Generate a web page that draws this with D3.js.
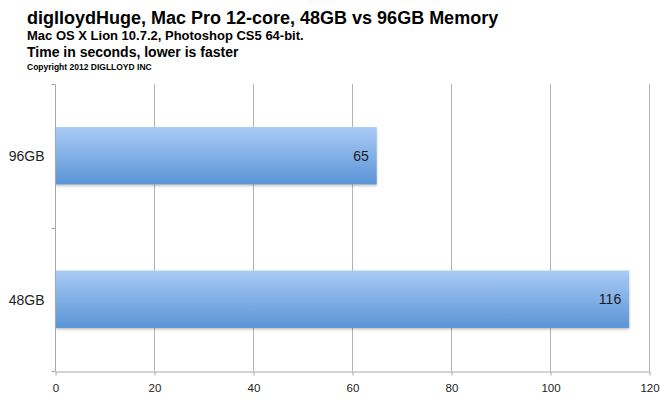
<!DOCTYPE html>
<html><head><meta charset="utf-8">
<script src="https://cdn.jsdelivr.net/npm/d3@7"></script>
<style>body{margin:0;background:#fff}svg{display:block;font-family:"Liberation Sans",Arial,sans-serif}</style>
</head><body><svg id="c" width="672" height="400"></svg>
<script>
const categories = ["96GB", "48GB"];
const values = [65, 116];
const xTicks = [0, 20, 40, 60, 80, 100, 120];
const titleLines = ["diglloydHuge, Mac Pro 12-core, 48GB vs 96GB Memory", "Mac OS X Lion 10.7.2, Photoshop CS5 64-bit.", "Time in seconds, lower is faster", "Copyright 2012 DIGLLOYD INC"];

const svg = d3.select("#c");
const m = {l: 55, r: 23, t: 84, b: 29};
const W = 672, H = 400;
const x = d3.scaleLinear().domain([0, 120]).range([m.l, W - m.r]);
const y = d3.scaleBand().domain(categories).range([m.t, H - m.b]).paddingInner(0.6).paddingOuter(0.3);
const yb = d3.scaleBand().domain(categories).range([m.t, H - m.b]);

const defs = svg.append("defs");
const g = defs.append("linearGradient").attr("id", "bg").attr("x1", 0).attr("y1", 0).attr("x2", 0).attr("y2", 1);
g.append("stop").attr("offset", "0%").attr("stop-color", "#aacbf6");
g.append("stop").attr("offset", "100%").attr("stop-color", "#5a94d6");
const f = defs.append("filter").attr("id", "sh").attr("x", "-5%").attr("y", "-20%").attr("width", "110%").attr("height", "150%");
f.append("feDropShadow").attr("dx", 0).attr("dy", 1.5).attr("stdDeviation", 1.2).attr("flood-color", "#000").attr("flood-opacity", 0.25);

// titles
const tl = svg.append("g");
const tspec = [{y: 24, s: 18, w: "bold"}, {y: 40, s: 13, w: "bold"}, {y: 57, s: 14, w: "bold"}, {y: 70, s: 8.5, w: "bold"}];
titleLines.forEach((t, i) => tl.append("text").attr("x", 27).attr("y", tspec[i].y).attr("font-size", tspec[i].s).attr("font-weight", tspec[i].w).attr("fill", "#000").text(t));

// gridlines
svg.append("g").selectAll("line").data(xTicks.slice(1)).join("line")
  .attr("x1", d => x(d) + 0.5).attr("x2", d => x(d) + 0.5).attr("y1", m.t).attr("y2", H - m.b)
  .attr("stroke", "#b3b3b3").attr("stroke-width", 1);

// bars
svg.append("g").selectAll("rect").data(categories).join("rect")
  .attr("x", x(0) + 1).attr("y", d => y(d)).attr("width", (d, i) => x(values[i]) - x(0) - 1).attr("height", y.bandwidth())
  .attr("fill", "url(#bg)").attr("filter", "url(#sh)");

svg.append("g").selectAll("text").data(categories).join("text")
  .attr("x", (d, i) => x(values[i]) - 8).attr("y", d => y(d) + y.bandwidth() / 2 + 5)
  .attr("text-anchor", "end").attr("font-size", 14).attr("fill", "#1c1c1c").text((d, i) => values[i]);

// x axis
const xa = svg.append("g").attr("transform", `translate(0.5,${H - m.b + 0.5})`)
  .call(d3.axisBottom(x).tickValues(xTicks).tickSize(4).tickSizeOuter(0).tickFormat(d3.format("d")));
xa.select(".domain").attr("stroke", "#a8a8a8");
xa.selectAll(".tick line").attr("stroke", "#a8a8a8");
xa.selectAll(".tick text").attr("font-size", 11.5).attr("fill", "#222").attr("dy", "1.15em").attr("font-family", "Liberation Sans, Arial, sans-serif");

// y axis
const ya = svg.append("g").attr("transform", `translate(${m.l + 0.5},0.5)`);
ya.append("line").attr("x1", 0).attr("x2", 0).attr("y1", m.t).attr("y2", H - m.b).attr("stroke", "#a8a8a8");
const yTickPos = [m.t].concat(categories.map(c => yb(c) + yb.bandwidth()));
ya.selectAll(".yt").data(yTickPos).join("line").attr("class", "yt")
  .attr("x1", -4).attr("x2", 0).attr("y1", d => Math.round(d)).attr("y2", d => Math.round(d)).attr("stroke", "#a8a8a8");
ya.selectAll(".yl").data(categories).join("text").attr("class", "yl")
  .attr("x", -11).attr("y", d => y(d) + y.bandwidth() / 2 + 5).attr("text-anchor", "end")
  .attr("font-size", 14).attr("fill", "#222").text(d => d);
</script></body></html>
